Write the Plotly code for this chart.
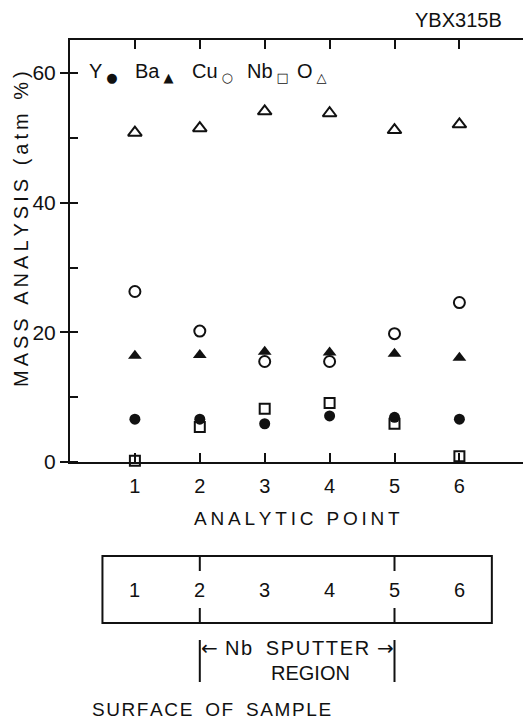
import plotly.graph_objects as go

# ---- data ----
points = [1, 2, 3, 4, 5, 6]
y_vals = [6.6, 6.6, 5.9, 7.1, 6.9, 6.6]
ba_vals = [16.4, 16.5, 17.0, 16.9, 16.7, 16.1]
cu_vals = [26.3, 20.2, 15.5, 15.5, 19.8, 24.6]
nb_vals = [0.2, 5.4, 8.2, 9.1, 5.9, 0.9]
o_vals = [50.8, 51.5, 54.1, 53.8, 51.2, 52.1]
y_ticks = [0, 20, 40, 60]
box_labels = ["1", "2", "3", "4", "5", "6"]
legend_items = [("Y", "●"), ("Ba", "▲"), ("Cu", "○"), ("Nb", "□"), ("O", "△")]

FONT = "Liberation Sans"
BLACK = "#111111"
W, H = 528, 721
L, R, T, B = 70, 5, 40, 259
PW = W - L - R
PH = H - T - B
XR = [0.0, 6.98]
YR = [0, 65.1]


def py(p):  # pixel row -> paper y
    return (H - B - p) / PH


def px(p):  # pixel column -> paper x
    return (p - L) / PW


def spaced(s, sep="\u2009"):
    return sep.join(list(s))


fig = go.Figure()

series = [
    ("Y", y_vals, dict(symbol="circle", size=11, color=BLACK)),
    ("Ba", ba_vals, dict(symbol="triangle-up", size=12, color=BLACK)),
    ("Cu", cu_vals, dict(symbol="circle-open", size=11, color=BLACK, line=dict(width=2, color=BLACK))),
    ("Nb", nb_vals, dict(symbol="square-open", size=10, color=BLACK, line=dict(width=2, color=BLACK))),
    ("O", o_vals, dict(symbol="triangle-up-open", size=12, color=BLACK, line=dict(width=2, color=BLACK))),
]
for name, vals, mk in series:
    fig.add_trace(go.Scatter(x=points, y=vals, mode="markers", name=name, marker=mk,
                             showlegend=False, cliponaxis=False))

fig.update_layout(
    width=W, height=H,
    margin=dict(l=L, r=R, t=T, b=B),
    paper_bgcolor="white", plot_bgcolor="white",
    font=dict(family=FONT, size=20, color=BLACK),
    showlegend=False,
    xaxis=dict(range=XR, tickvals=points, ticktext=[str(p) for p in points],
               ticks="inside", ticklen=9, tickwidth=2, tickcolor=BLACK,
               showline=True, linewidth=2, linecolor=BLACK, mirror="ticks",
               showgrid=False, zeroline=False, ticklabelstandoff=5,
               tickfont=dict(size=20)),
    yaxis=dict(range=YR, tickvals=y_ticks, ticks="outside", ticklen=8, tickwidth=2,
               tickcolor=BLACK, showline=True, linewidth=2, linecolor=BLACK,
               showgrid=False, zeroline=False, tickfont=dict(size=21),
               minor=dict(dtick=10, ticks="inside", ticklen=8, tickwidth=2, tickcolor=BLACK, showgrid=False)),
    yaxis2=dict(range=YR, overlaying="y", side="right", dtick=10, tick0=0,
                ticks="inside", ticklen=9, tickwidth=2, tickcolor=BLACK,
                showline=True, linewidth=2, linecolor=BLACK, showticklabels=False,
                showgrid=False, zeroline=False),
)

ann = []
# legend
legend_x = [87, 133, 190, 245, 295]
for (lab, sym), xp in zip(legend_items, legend_x):
    ann.append(dict(x=px(xp), y=py(72), xref="paper", yref="paper", xanchor="left", yanchor="middle",
                    text=f"{lab}\u2009<sub><span style='font-family:DejaVu Sans;font-size:13px'>{sym}</span></sub>",
                    showarrow=False, font=dict(size=20)))
# sample id
ann.append(dict(x=px(458), y=py(20), xref="paper", yref="paper", xanchor="center", yanchor="middle",
                text="YBX315B", showarrow=False, font=dict(size=20)))
# y title
ann.append(dict(x=px(21), y=py(229), xref="paper", yref="paper", xanchor="center", yanchor="middle",
                text=spaced("MASS") + "\u2009 \u2009" + spaced("ANALYSIS") + "\u2009 \u2009" + spaced("(atm") + "\u2009 \u2009" + spaced("%)"),
                textangle=-90, showarrow=False, font=dict(size=20)))
# x title
ann.append(dict(x=0.5, y=py(518), xref="paper", yref="paper", xanchor="center", yanchor="middle",
                text=spaced("ANALYTIC") + "\u2009 \u2009" + spaced("POINT"), showarrow=False, font=dict(size=19)))
# box labels
for p, lab in zip(points, box_labels):
    ann.append(dict(x=p, y=py(590), xref="x", yref="paper", xanchor="center", yanchor="middle",
                    text=lab, showarrow=False, font=dict(size=20)))
# sputter region
ann.append(dict(x=2, y=py(648), xref="x", yref="paper", xanchor="left", yanchor="middle",
                text="\u2190", showarrow=False, font=dict(size=20, family="DejaVu Sans"), xshift=-1))
ann.append(dict(x=5, y=py(648), xref="x", yref="paper", xanchor="right", yanchor="middle",
                text="\u2192", showarrow=False, font=dict(size=20, family="DejaVu Sans"), xshift=1))
ann.append(dict(x=3.5, y=py(648), xref="x", yref="paper", xanchor="center", yanchor="middle",
                text=spaced("Nb", "\u200a") + "\u2009 \u2009" + spaced("SPUTTER", "\u200a"), showarrow=False, font=dict(size=20)))
ann.append(dict(x=3.7, y=py(673), xref="x", yref="paper", xanchor="center", yanchor="middle",
                text="REGION", showarrow=False, font=dict(size=20)))
ann.append(dict(x=px(211), y=py(710), xref="paper", yref="paper", xanchor="center", yanchor="middle",
                text=spaced("SURFACE", "\u200a") + "\u2009 \u2009" + spaced("OF", "\u200a") + "\u2009 \u2009" + spaced("SAMPLE", "\u200a"),
                showarrow=False, font=dict(size=19)))
fig.update_layout(annotations=ann)

line = dict(color=BLACK, width=2)
shapes = [dict(type="rect", xref="x", yref="paper", x0=0.5, x1=6.5, y0=py(623), y1=py(556), line=line)]
for xv in (2, 5):
    shapes.append(dict(type="line", xref="x", yref="paper", x0=xv, x1=xv, y0=py(556), y1=py(571), line=line))
    shapes.append(dict(type="line", xref="x", yref="paper", x0=xv, x1=xv, y0=py(608), y1=py(623), line=line))
    shapes.append(dict(type="line", xref="x", yref="paper", x0=xv, x1=xv, y0=py(640), y1=py(682), line=line))
fig.update_layout(shapes=shapes)

fig.write_html("out.html")
